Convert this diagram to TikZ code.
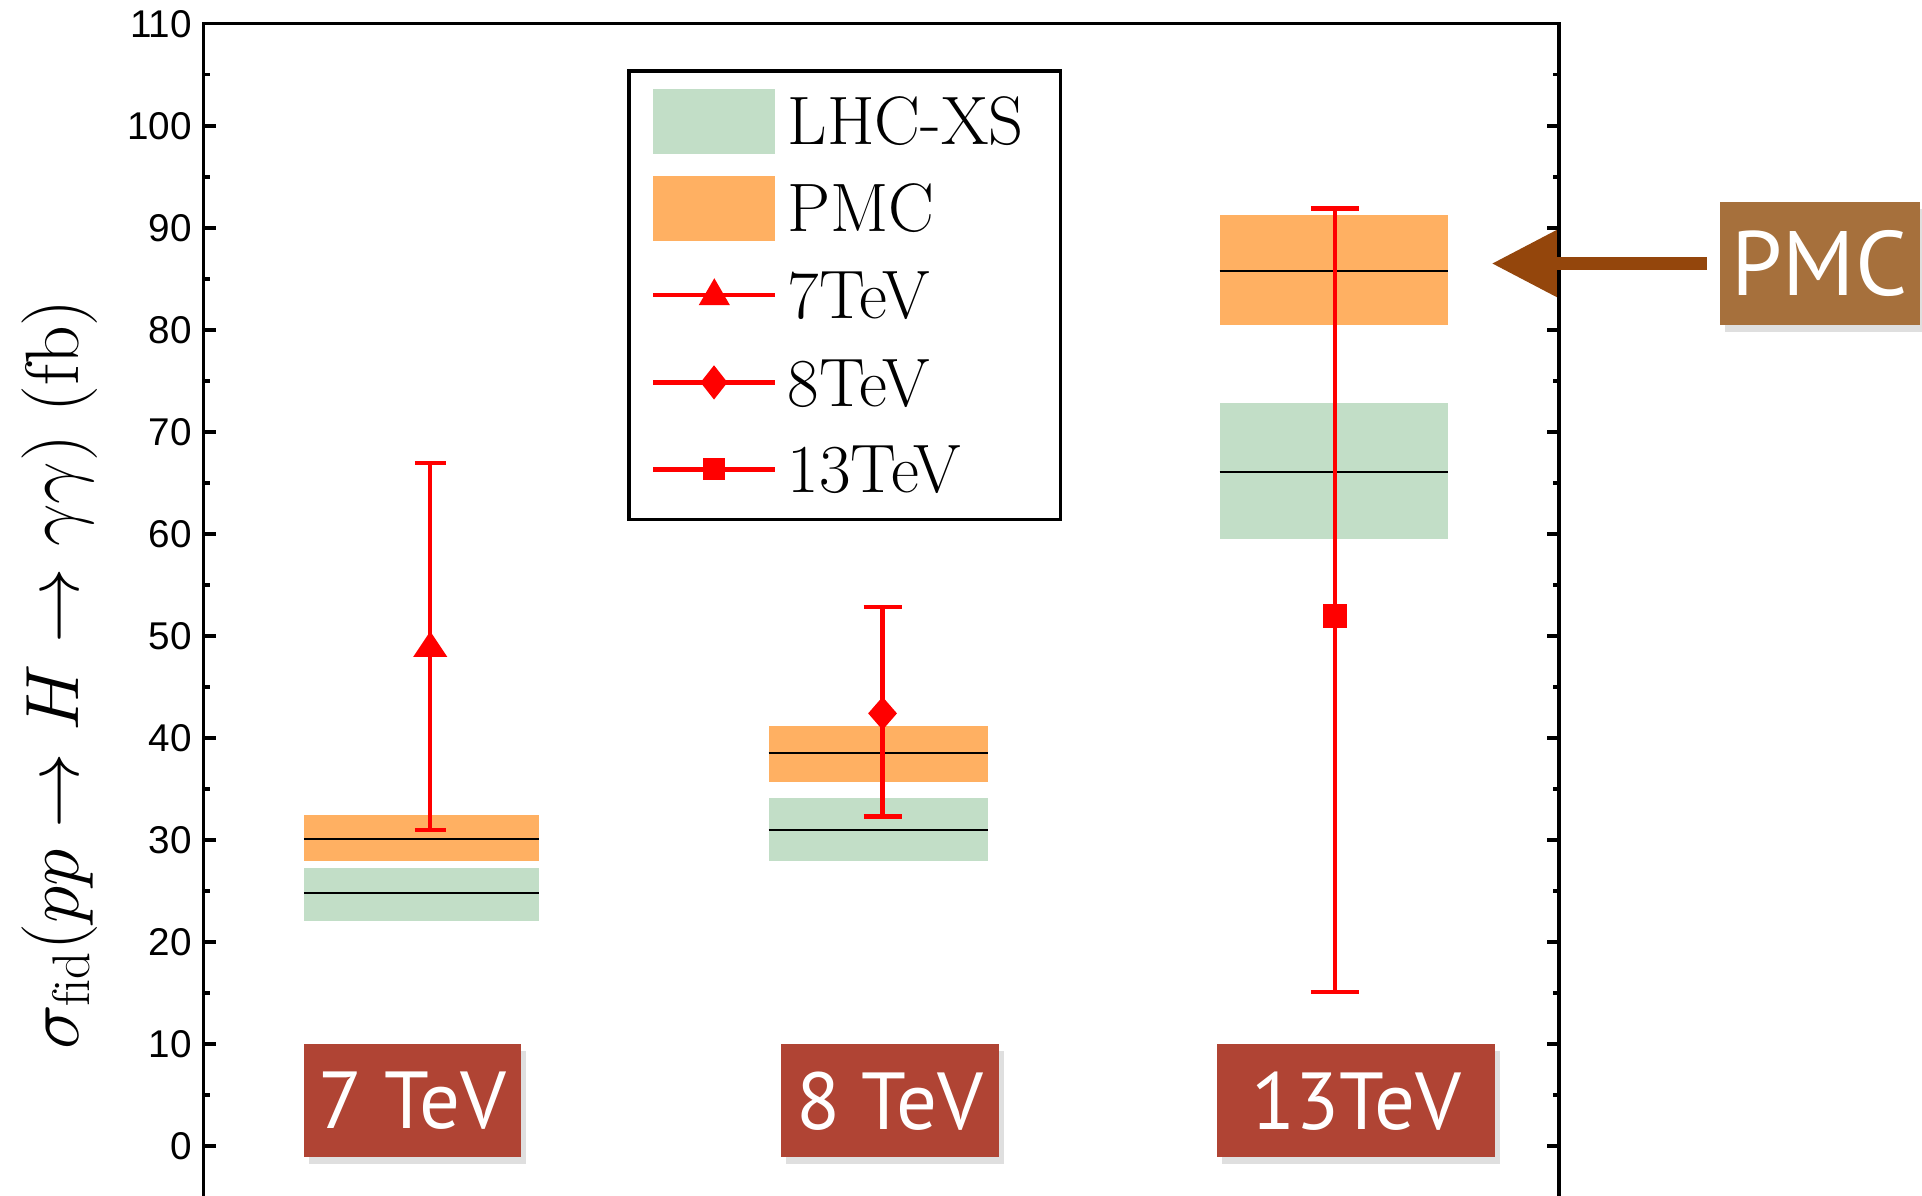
\RequirePackage{fix-cm}
\documentclass[tikz,border=0pt]{standalone}
\usepackage{fontspec}
\newfontfamily\tickfont{Liberation Sans}
\newfontfamily\boxfont{PT Sans}
\usetikzlibrary{arrows.meta,shadows,calc}
\definecolor{bandgreen}{RGB}{194,222,199}
\definecolor{bandorange}{RGB}{255,176,98}
\definecolor{boxred}{RGB}{176,68,52}
\definecolor{boxbrown}{RGB}{166,112,60}
\definecolor{arrowbrown}{RGB}{148,70,12}
\def\U{0.012258cm}
\begin{document}
\begin{tikzpicture}[x=\U,y=\U,
  axisline/.style={line width=1pt,black},
  centerline/.style={line width=0.6pt,black},
  errbar/.style={red,line width=1.2pt},
  ticklabel/.style={font=\tickfont\fontsize{11}{13}\selectfont,anchor=east,inner sep=0pt},
  legendtext/.style={font=\fontsize{19.5}{23}\selectfont,anchor=base west,inner sep=0pt},
  energybox/.style={fill=boxred,text=white,font=\boxfont\fontsize{23}{27}\selectfont,
    minimum height=92*\U,inner sep=0pt,
    drop shadow={shadow xshift=0.5mm,shadow yshift=-0.7mm,opacity=0.25}},
]
\useasboundingbox (0,0) rectangle (1568,975);

% ---------- plot (data coordinates) ----------
\begin{scope}[shift={(0,40)},y=0.10199cm]
  % bands
  \fill[bandorange] (248,27.9) rectangle (440,32.45);
  \fill[bandgreen]  (248,22.1) rectangle (440,27.3);
  \fill[bandorange] (627,35.7) rectangle (806,41.2);
  \fill[bandgreen]  (627,27.9) rectangle (806,34.1);
  \fill[bandorange] (995,80.5) rectangle (1181,91.3);
  \fill[bandgreen]  (995,59.5) rectangle (1181,72.8);
  % central values
  \draw[centerline] (248,30.1) -- (440,30.1);
  \draw[centerline] (248,24.8) -- (440,24.8);
  \draw[centerline] (627,38.5) -- (806,38.5);
  \draw[centerline] (627,31.0) -- (806,31.0);
  \draw[centerline] (995,85.8) -- (1181,85.8);
  \draw[centerline] (995,66.1) -- (1181,66.1);
  % error bars
  \draw[errbar] (351,31.0) -- (351,66.95);
  \draw[errbar] (338.5,66.95) -- (363.5,66.95);
  \draw[errbar] (338.5,31.0) -- (363.5,31.0);
  \draw[errbar] (720,32.3) -- (720,52.8);
  \draw[errbar] (704.5,52.8) -- (735.5,52.8);
  \draw[errbar] (704.5,32.3) -- (735.5,32.3);
  \draw[errbar] (1089,15.1) -- (1089,91.9);
  \draw[errbar] (1069.5,91.9) -- (1108.5,91.9);
  \draw[errbar] (1069.5,15.1) -- (1108.5,15.1);
  % axes
  \draw[axisline] (166,-5) -- (166,110) -- (1272,110) -- (1272,-5);
  \foreach \v in {0,10,...,110}{
    \draw[axisline] (166,\v) -- ++(10,0);
    \draw[axisline] (1272,\v) -- ++(-10,0);
    \node[ticklabel] (tl\v) at (157,\v) {\v};
  }
  \foreach \v in {5,15,...,105}{
    \draw[axisline] (166,\v) -- ++(5,0);
    \draw[axisline] (1272,\v) -- ++(-5,0);
  }
\end{scope}

% markers
\fill[red] (337,439) -- (365,439) -- (351,460) -- cycle;
\fill[red] (720,379.5) -- (731.75,393) -- (720,406.5) -- (708.25,393) -- cycle;
\fill[red] (1079.5,463) rectangle (1098.5,482);

% y label
\node[rotate=90,anchor=base,font=\fontsize{21.5}{26}\selectfont,inner sep=0pt] (ylab) at (64,425)
  {$\sigma_{\mathrm{fid}}(pp\rightarrow H\rightarrow\gamma\gamma)$ (fb)};

% legend
\draw[line width=1pt] (513,551) rectangle (865,917);
\fill[bandgreen]  (533,849) rectangle (632,902);
\fill[bandorange] (533,778) rectangle (632,831);
\draw[errbar] (533,734) -- (632,734);
\fill[red] (570,726) -- (595.5,726) -- (582.75,748) -- cycle;
\draw[errbar] (533,663) -- (632,663);
\fill[red] (582.5,649) -- (593.5,663) -- (582.5,677) -- (571.5,663) -- cycle;
\draw[errbar] (533,592) -- (632,592);
\fill[red] (573.5,583) rectangle (591.5,601);
\node[legendtext] (lg1) at (642,857) {LHC-XS};
\node[legendtext] (lg2) at (642,786) {PMC};
\node[legendtext] (lg3) at (642,715) {7TeV};
\node[legendtext] (lg4) at (642,643) {8TeV};
\node[legendtext] (lg5) at (642,573) {13TeV};

% energy labels
\node[energybox,minimum width=177*\U] (e7) at (336.5,77) {7 TeV};
\node[energybox,minimum width=178*\U] (e8) at (726,77) {8 TeV};
\node[energybox,minimum width=227*\U] (e13) at (1106.5,77) {13TeV};

% PMC callout
\node[energybox,fill=boxbrown,minimum width=163*\U,minimum height=100*\U,
  font=\boxfont\fontsize{26}{30}\selectfont] (pmc) at (1484.5,760) {PMC};
\coordinate (tip) at (1217,760);
\draw[arrowbrown,line width=0.1226cm,shorten <=0.1226cm,
  -{Triangle[length=0.650cm,width=0.637cm]}] (pmc.west) -- (tip);
\end{tikzpicture}
\end{document}
